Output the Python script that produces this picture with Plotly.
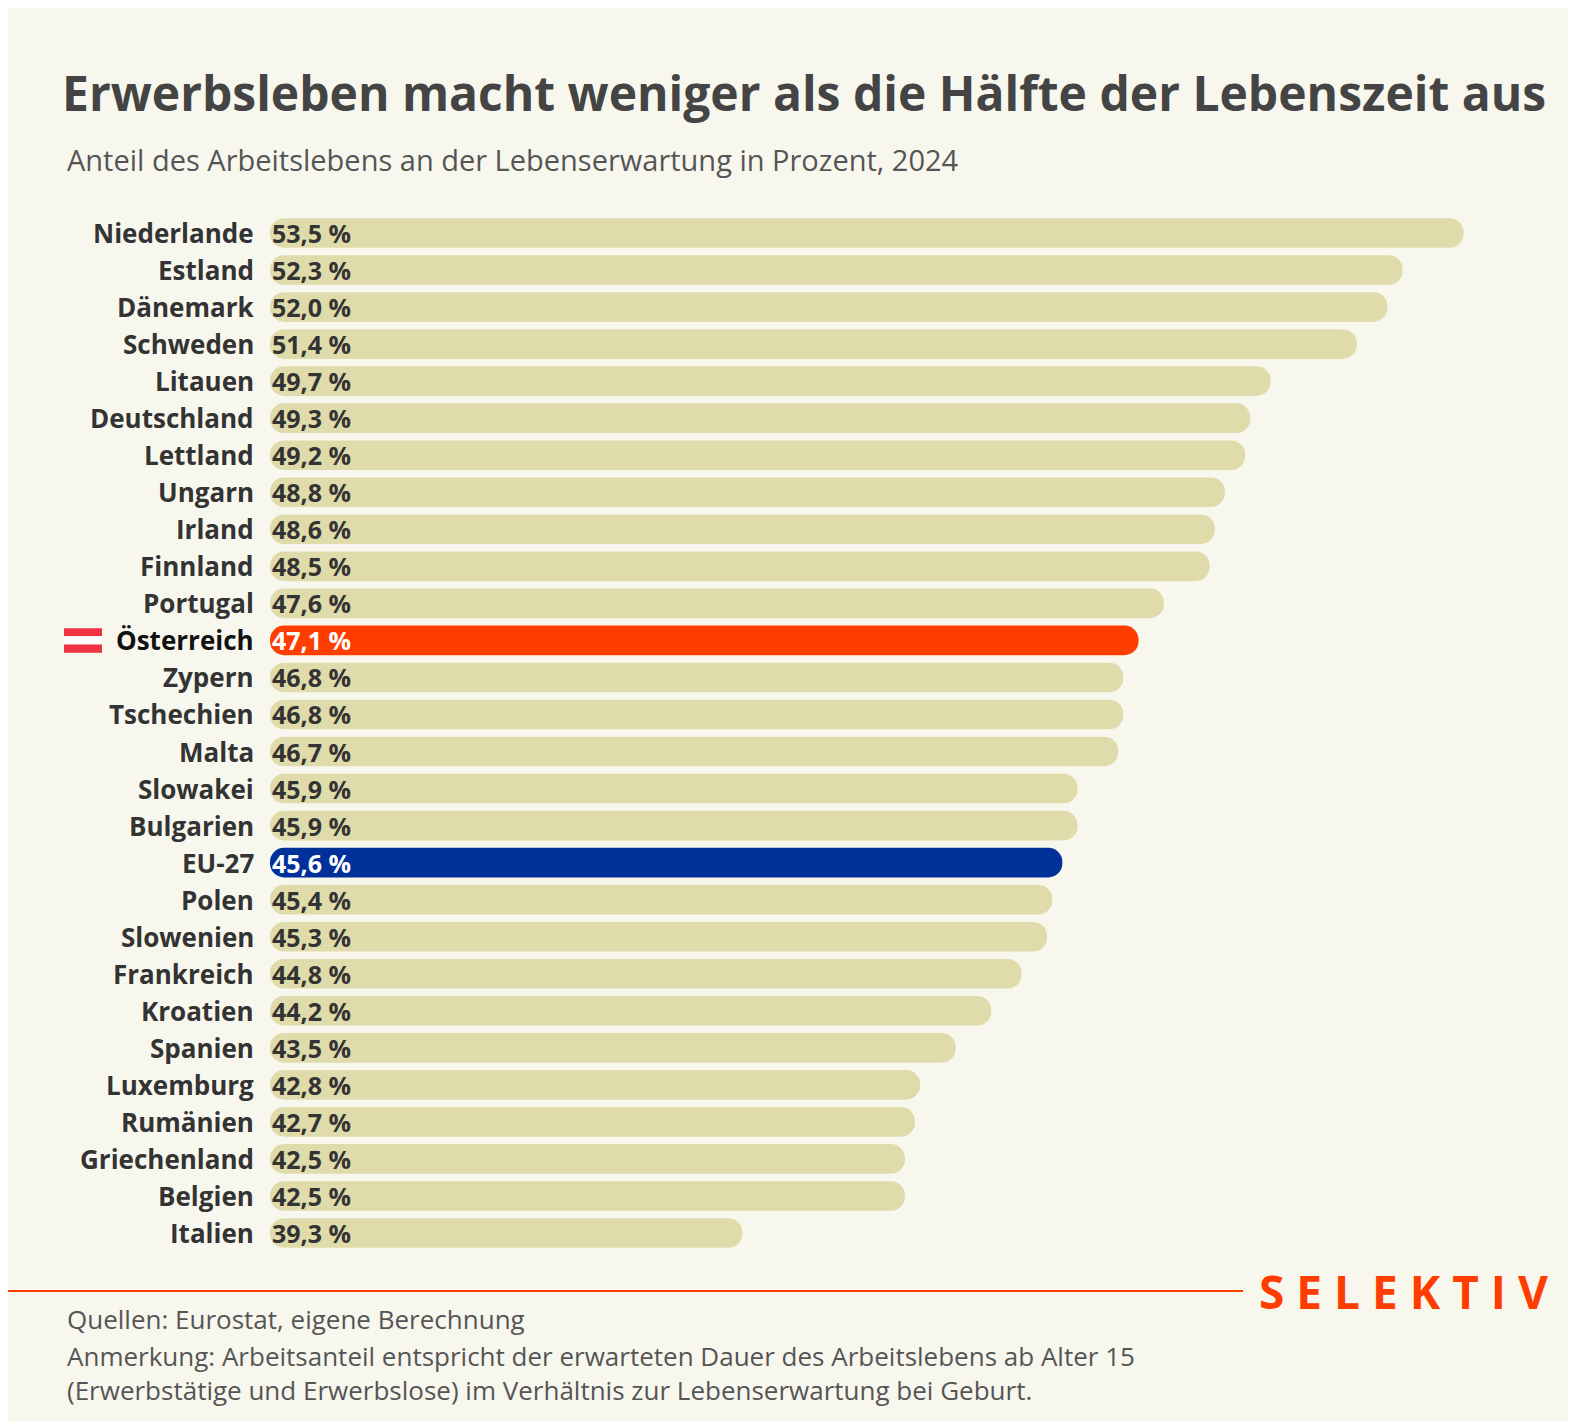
import plotly.graph_objects as go

countries = ["Niederlande","Estland","Dänemark","Schweden","Litauen","Deutschland","Lettland","Ungarn","Irland","Finnland","Portugal","Österreich","Zypern","Tschechien","Malta","Slowakei","Bulgarien","EU-27","Polen","Slowenien","Frankreich","Kroatien","Spanien","Luxemburg","Rumänien","Griechenland","Belgien","Italien"]
values = [53.5,52.3,52.0,51.4,49.7,49.3,49.2,48.8,48.6,48.5,47.6,47.1,46.8,46.8,46.7,45.9,45.9,45.6,45.4,45.3,44.8,44.2,43.5,42.8,42.7,42.5,42.5,39.3]

BASE = 30
colors = ["#ff3d00" if c=="Österreich" else "#00309a" if c=="EU-27" else "#e0dbab" for c in countries]
txtcol = ["white" if c in ("Österreich","EU-27") else "#333333" for c in countries]
FONT = "Open Sans"

L, R, T, B = 262, 95, 205, 176
PW, PH = 1576 - L - R, 1421 - T - B
def px(x): return (x - L) / PW
def py(y): return (1421 - B - y) / PH

fig = go.Figure(go.Bar(
    y=countries, x=[v-BASE for v in values], base=BASE, orientation="h",
    marker=dict(color=colors, line=dict(width=0)), width=0.8, hoverinfo="skip"))

ann = []
for c, v, tc in zip(countries, values, txtcol):
    ann.append(dict(x=BASE, y=c, xref="x", yref="y", xanchor="left", xshift=0,
                    text=f"<b>{str(v).replace('.', ',')} %</b>", showarrow=False,
                    font=dict(family=FONT, size=25, color=tc)))
    ann.append(dict(x=0, y=c, xref="paper", yref="y", xanchor="right", xshift=-14,
                    text=f"<b>{c}</b>", showarrow=False,
                    font=dict(family=FONT, size=26, color="#111111" if c=="Österreich" else "#333333")))

ann += [
    dict(x=px(52), y=py(85), xref="paper", yref="paper", xanchor="left", yanchor="middle",
         text="<b>Erwerbsleben macht weniger als die Hälfte der Lebenszeit aus</b>", showarrow=False,
         font=dict(family=FONT, size=48, color="#444444")),
    dict(x=px(57), y=py(152), xref="paper", yref="paper", xanchor="left", yanchor="middle",
         text="Anteil des Arbeitslebens an der Lebenserwartung in Prozent, 2024", showarrow=False,
         font=dict(family=FONT, size=29, color="#555555")),
    dict(x=px(1542), y=py(1283), xref="paper", yref="paper", xanchor="right", yanchor="middle",
         text="<b>S E L E K T I V</b>", showarrow=False,
         font=dict(family=FONT, size=46, color="#ff3d00")),
    dict(x=px(57), y=py(1311), xref="paper", yref="paper", xanchor="left", yanchor="middle",
         text="Quellen: Eurostat, eigene Berechnung", showarrow=False,
         font=dict(family=FONT, size=26, color="#555555")),
    dict(x=px(57), y=py(1365), xref="paper", yref="paper", xanchor="left", yanchor="middle", align="left",
         text="Anmerkung: Arbeitsanteil entspricht der erwarteten Dauer des Arbeitslebens ab Alter 15<br>(Erwerbstätige und Erwerbslose) im Verhältnis zur Lebenserwartung bei Geburt.",
         showarrow=False, font=dict(family=FONT, size=26, color="#555555")),
]

shapes = [dict(type="line", xref="paper", yref="paper", x0=px(0), x1=px(1235),
               y0=py(1283), y1=py(1283), line=dict(color="#ff3d00", width=2))]
ai = countries.index("Österreich")
for i, col in enumerate(["#ef3340", "white", "#ef3340"]):
    shapes.append(dict(type="rect", xref="paper", yref="y", x0=px(56), x1=px(94),
                       y0=ai-0.33+i*0.22, y1=ai-0.33+(i+1)*0.22, fillcolor=col, line=dict(width=0)))

fig.update_layout(
    width=1576, height=1421, paper_bgcolor="#f8f7ee", plot_bgcolor="#f8f7ee",
    margin=dict(l=L, r=R, t=T, b=B), showlegend=False, barcornerradius=14,
    xaxis=dict(range=[BASE, 54], visible=False, fixedrange=True),
    yaxis=dict(autorange="reversed", showticklabels=False, showgrid=False, zeroline=False),
    annotations=ann, shapes=shapes, font=dict(family=FONT))
fig.write_html("out.html")
